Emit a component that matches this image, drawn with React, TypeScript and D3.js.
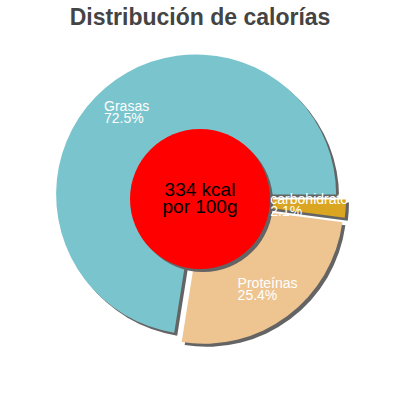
import React, { useRef, useEffect } from 'react';
import * as d3 from 'd3';

const categories = ['Grasas', 'Proteínas', 'carbohidratos'];
const percentages = [72.5, 25.4, 2.1];
const sliceColors = ['#7AC5CD', '#EEC591', '#DAA520'];
const chartTitle = 'Distribución de calorías';
const centerLines = ['334 kcal', 'por 100g'];

const App: React.FC = () => {
  const svgRef = useRef<SVGSVGElement>(null);
  const width = 400;
  const height = 400;
  const cx = 200;
  const cy = 199;
  const radius = 140;
  const innerRadius = 70;
  const explode = 6;
  const labelRadius = 107;
  const shadow = 3;

  useEffect(() => {
    if (!svgRef.current) return;
    const svg = d3.select(svgRef.current);
    svg.selectAll('*').remove();

    const data = categories.map((c, i) => ({ name: c, value: percentages[i], color: sliceColors[i] }));

    // counter-clockwise from 3 o'clock
    const pie = d3.pie<{ name: string; value: number; color: string }>()
      .sort(null)
      .value(d => d.value)
      .startAngle(Math.PI / 2)
      .endAngle(Math.PI / 2 - 2 * Math.PI);

    const arcs = pie(data);
    const arc = d3.arc<d3.PieArcDatum<any>>().innerRadius(0).outerRadius(radius);

    const offset = (d: d3.PieArcDatum<any>, r: number) => {
      const mid = (d.startAngle + d.endAngle) / 2;
      return [Math.sin(mid) * r, -Math.cos(mid) * r];
    };

    const defs = svg.append('defs');
    defs.append('clipPath').attr('id', 'plotClip')
      .append('rect').attr('x', 0).attr('y', 0).attr('width', 347).attr('height', height);

    const g = svg.append('g').attr('transform', `translate(${cx},${cy})`);

    // Shadows
    g.selectAll('.shadow')
      .data(arcs)
      .enter()
      .append('path')
      .attr('d', d => arc(d) || '')
      .attr('transform', d => {
        const [dx, dy] = offset(d, explode);
        return `translate(${dx + shadow},${dy + shadow})`;
      })
      .attr('fill', '#646464');

    // Slices
    g.selectAll('.slice')
      .data(arcs)
      .enter()
      .append('path')
      .attr('d', d => arc(d) || '')
      .attr('transform', d => {
        const [dx, dy] = offset(d, explode);
        return `translate(${dx},${dy})`;
      })
      .attr('fill', d => d.data.color);

    // Center circle
    g.append('circle')
      .attr('cx', shadow)
      .attr('cy', shadow)
      .attr('r', innerRadius)
      .attr('fill', '#646464');
    g.append('circle')
      .attr('r', innerRadius)
      .attr('fill', '#FF0000');

    const center = g.append('text')
      .attr('text-anchor', 'middle')
      .attr('fill', '#000')
      .attr('font-family', '"Liberation Sans", Arial, sans-serif')
      .attr('font-size', '19px');
    centerLines.forEach((t, i) => {
      center.append('tspan').attr('x', 0).attr('y', -3 + i * 17).text(t);
    });

    // Labels
    const labels = svg.append('g').attr('clip-path', 'url(#plotClip)');
    arcs.forEach(d => {
      const [lx, ly] = offset(d, labelRadius + explode);
      const t = labels.append('text')
        .attr('fill', '#fff')
        .attr('font-family', '"Liberation Sans", Arial, sans-serif')
        .attr('font-size', '14px');
      const l1 = t.append('tspan').text(d.data.name);
      const l2 = t.append('tspan').text(`${d.data.value.toFixed(1)}%`);
      const w = Math.max(
        (l1.node() as SVGTSpanElement).getComputedTextLength(),
        (l2.node() as SVGTSpanElement).getComputedTextLength()
      );
      const x0 = cx + lx - w / 2;
      l1.attr('x', x0).attr('y', cy + ly - 2);
      l2.attr('x', x0).attr('y', cy + ly + 10);
    });

    // Title
    svg.append('text')
      .attr('x', width / 2)
      .attr('y', 25)
      .attr('text-anchor', 'middle')
      .attr('fill', '#444')
      .attr('font-family', '"Liberation Sans", Arial, sans-serif')
      .attr('font-weight', 'bold')
      .attr('font-size', '23px')
      .text(chartTitle);
  }, []);

  return (
    <svg
      ref={svgRef}
      width={width}
      height={height}
      style={{ position: 'absolute', left: 0, top: 0, background: '#fff' }}
    />
  );
};

export default App;
